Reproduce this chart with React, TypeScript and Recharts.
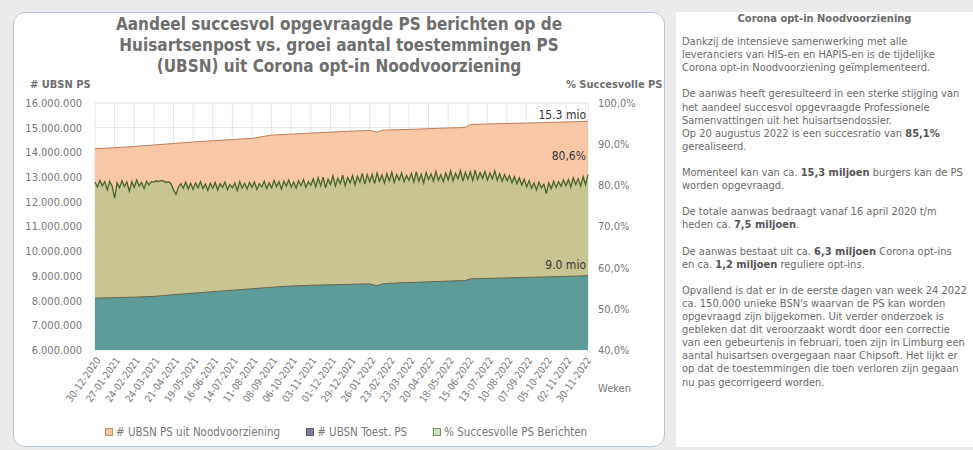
import { ComposedChart, Area, XAxis, YAxis, CartesianGrid } from 'recharts'

const FONT = '"DejaVu Sans Condensed", "DejaVu Sans", sans-serif'

// tick labels on the x axis, one per 4 weeks
const weekLabels = [
  '30-12-2020', '27-01-2021', '24-02-2021', '24-03-2021', '21-04-2021', '19-05-2021',
  '16-06-2021', '14-07-2021', '11-08-2021', '08-09-2021', '06-10-2021', '03-11-2021',
  '01-12-2021', '29-12-2021', '26-01-2022', '23-02-2022', '23-03-2022', '20-04-2022',
  '18-05-2022', '15-06-2022', '13-07-2022', '10-08-2022', '07-09-2022', '05-10-2022',
  '02-11-2022', '30-11-2022',
]
const weekTicks = [0, 4, 8, 12, 16, 20, 24, 28, 32, 36, 40, 44, 48, 52, 56, 60, 64, 68, 72, 76, 80, 84, 88, 92, 96, 100]

// weeks (since 30-12-2020) where the number of UBSN was read
const capWeeks = [0, 4, 8, 12, 16, 20, 24, 28, 32, 36, 40, 44, 48, 52, 56, 57.5, 58.5, 60, 64, 68, 72, 75.5, 76.5, 80, 84, 88, 92, 96, 100.5]
// # UBSN Toest. PS
const toest = [
  8100000, 8120000, 8140000, 8170000, 8240000, 8300000, 8360000, 8420000, 8480000, 8540000,
  8590000, 8620000, 8640000, 8660000, 8680000, 8600000, 8670000, 8700000, 8730000, 8760000,
  8790000, 8810000, 8880000, 8900000, 8920000, 8940000, 8960000, 8980000, 9010000,
]
// # UBSN PS uit Noodvoorziening
const nood = [
  6050000, 6070000, 6100000, 6130000, 6120000, 6120000, 6110000, 6100000, 6090000, 6160000,
  6150000, 6160000, 6180000, 6200000, 6210000, 6220000, 6230000, 6210000, 6200000, 6200000,
  6200000, 6200000, 6250000, 6250000, 6250000, 6250000, 6250000, 6250000, 6250000,
]

// % Succesvolle PS Berichten, twice per week
const pctSucces = [
  80.8, 79.6, 81.2, 79.9, 80.9, 78.9, 81.0, 79.8,
  76.9, 80.6, 79.4, 81.1, 79.7, 80.8, 78.6, 80.9,
  79.5, 81.3, 79.8, 80.7, 79.2, 81.0, 80.1, 80.9,
  80.8, 81.1, 80.9, 81.2, 81.0, 80.7, 80.9, 80.4,
  78.9, 77.8, 79.6, 80.4, 79.3, 80.8, 79.1, 80.5,
  79.0, 80.6, 79.4, 80.9, 79.2, 80.3, 78.8, 80.5,
  79.3, 80.7, 78.9, 80.4, 79.5, 80.8, 79.0, 80.2,
  79.4, 80.6, 78.7, 80.9, 79.3, 80.5, 79.1, 80.7,
  79.5, 80.8, 79.0, 80.4, 79.6, 81.0, 79.2, 80.6,
  79.4, 81.2, 79.7, 80.9, 79.1, 81.0, 79.8, 81.3,
  79.6, 80.8, 79.3, 81.1, 79.9, 81.4, 79.5, 80.9,
  80.0, 81.6, 79.6, 81.8, 79.9, 82.0, 79.4, 81.5,
  80.2, 82.3, 79.8, 81.7, 80.4, 82.5, 79.9, 81.9,
  80.6, 82.4, 80.1, 82.2, 80.8, 82.9, 80.3, 82.6,
  80.9, 82.7, 80.4, 83.0, 81.0, 82.5, 80.6, 82.8,
  81.1, 83.2, 80.7, 82.6, 81.3, 83.0, 80.9, 82.4,
  81.2, 82.9, 80.8, 83.3, 81.0, 82.7, 80.6, 83.1,
  81.4, 82.8, 81.0, 83.4, 81.2, 82.6, 80.9, 83.0,
  81.3, 83.5, 81.1, 82.9, 81.6, 83.6, 81.0, 83.2,
  81.5, 83.3, 81.2, 83.7, 81.4, 83.1, 81.7, 83.4,
  81.3, 83.0, 81.6, 83.5, 81.2, 82.8, 81.0, 82.6,
  81.1, 82.4, 80.6, 82.1, 80.4, 81.8, 80.1, 81.5,
  79.6, 81.2, 79.3, 80.6, 78.9, 80.8, 79.4, 80.3,
  78.0, 80.6, 79.2, 81.0, 79.5, 80.9, 79.8, 81.3,
  79.9, 81.4, 79.6, 81.8, 80.2, 81.6, 79.8, 82.1,
  80.2, 82.6,
]

const countTicks = [6000000, 7000000, 8000000, 9000000, 10000000, 11000000, 12000000, 13000000, 14000000, 15000000, 16000000]
const pctTicks = [40, 50, 60, 70, 80, 90, 100]

const data = pctSucces.map((pct, i) => {
  const week = i / 2
  const k = capWeeks.indexOf(week)
  return {
    week,
    pct,
    toest: k >= 0 ? toest[k] : null,
    totaal: k >= 0 ? toest[k] + nood[k] : null,
  }
})

const COLORS = {
  nood: '#f8c7a6',
  noodLine: '#b98160',
  toest: '#5d9c99',
  toestLine: '#6e6248',
  pct: '#c8c592',
  pctLine: '#46652a',
  text: '#6e6e6e',
}

const fmtCount = (v: number) => String(v).replace(/\B(?=(\d{3})+(?!\d))/g, '.')
const fmtPct = (v: number) => v.toFixed(1).replace('.', ',') + '%'

function XTick({ x, y, payload }: any) {
  const label = weekLabels[weekTicks.indexOf(payload.value)]
  return (
    <g transform={`translate(${x + 3},${y})`}>
      <text x={0} y={0} dy={4} textAnchor="end" transform="rotate(-55)" fontSize={10} fill="#777" fontFamily={FONT}>
        {label}
      </text>
    </g>
  )
}

const paragraphs: (string | [string, boolean][])[][] = [
  [
    'Dankzij de intensieve samenwerking met alle',
    'leveranciers van HIS-en en HAPIS-en is de tijdelijke',
    'Corona opt-in Noodvoorziening geïmplementeerd.',
  ],
  [
    'De aanwas heeft geresulteerd in een sterke stijging van',
    'het aandeel succesvol opgevraagde Professionele',
    'Samenvattingen uit het huisartsendossier.',
    [['Op 20 augustus 2022 is een succesratio van ', false], ['85,1%', true]],
    'gerealiseerd.',
  ],
  [
    [['Momenteel kan van ca. ', false], ['15,3 miljoen', true], [' burgers kan de PS', false]],
    'worden opgevraagd.',
  ],
  [
    'De totale aanwas bedraagt vanaf 16 april 2020 t/m',
    [['heden ca. ', false], ['7,5 miljoen', true], ['.', false]],
  ],
  [
    [['De aanwas bestaat uit ca. ', false], ['6,3 miljoen', true], [' Corona opt-ins', false]],
    [['en ca. ', false], ['1,2 miljoen', true], [' reguliere opt-ins.', false]],
  ],
  [
    'Opvallend is dat er in de eerste dagen van week 24 2022',
    "ca. 150.000 unieke BSN's waarvan de PS kan worden",
    'opgevraagd zijn bijgekomen. Uit verder onderzoek is',
    'gebleken dat dit veroorzaakt wordt door een correctie',
    'van een gebeurtenis in februari, toen zijn in Limburg een',
    'aantal huisartsen overgegaan naar Chipsoft. Het lijkt er',
    'op dat de toestemmingen die toen verloren zijn gegaan',
    'nu pas gecorrigeerd worden.',
  ],
]

function LegendItem({ fill, border, label }: { fill: string; border: string; label: string }) {
  return (
    <span style={{ display: 'inline-flex', alignItems: 'center', marginRight: 26 }}>
      <span style={{ width: 6, height: 6, background: fill, border: `1px solid ${border}`, marginRight: 3 }} />
      {label}
    </span>
  )
}

export default function App() {
  return (
    <div style={{ position: 'absolute', left: 0, top: 0, width: 973, height: 450, background: '#ebebeb', overflow: 'hidden', fontFamily: FONT }}>
      <div style={{ position: 'absolute', left: 13, top: 12, width: 650, height: 433, border: '1px solid #b5c5d6', borderRadius: 12, background: '#fff' }} />

      <div style={{ position: 'absolute', left: 0, top: 0 }}>
        <ComposedChart width={680} height={450} data={data} margin={{ top: 103, right: 32, bottom: 40, left: 0 }}>
          <XAxis
            xAxisId="w"
            dataKey="week"
            type="number"
            domain={[0, 100.5]}
            ticks={weekTicks}
            interval={0}
            tick={<XTick />}
            tickLine={false}
            axisLine={false}
            height={60}
          />
          <YAxis
            yAxisId="cnt"
            domain={[6000000, 16000000]}
            ticks={countTicks}
            tickFormatter={fmtCount}
            width={95}
            tickLine={false}
            axisLine={false}
            tickMargin={7}
            tick={{ fontSize: 11, fill: '#777', fontFamily: FONT }}
          />
          <YAxis
            yAxisId="pct"
            orientation="right"
            domain={[40, 100]}
            ticks={pctTicks}
            tickFormatter={fmtPct}
            width={60}
            tickLine={false}
            axisLine={false}
            tickMargin={4}
            tick={{ fontSize: 11, fill: '#777', fontFamily: FONT }}
          />
          <Area
            xAxisId="w"
            yAxisId="cnt"
            dataKey="totaal"
            connectNulls
            type="linear"
            fill={COLORS.nood}
            fillOpacity={1}
            stroke={COLORS.noodLine}
            strokeWidth={1}
            isAnimationActive={false}
          />
          <Area
            xAxisId="w"
            yAxisId="pct"
            dataKey="pct"
            type="linear"
            fill={COLORS.pct}
            fillOpacity={1}
            stroke={COLORS.pctLine}
            strokeWidth={1.3}
            isAnimationActive={false}
          />
          <Area
            xAxisId="w"
            yAxisId="cnt"
            dataKey="toest"
            connectNulls
            type="linear"
            fill={COLORS.toest}
            fillOpacity={1}
            stroke={COLORS.toestLine}
            strokeWidth={1}
            isAnimationActive={false}
          />
          <CartesianGrid xAxisId="w" yAxisId="cnt" stroke="rgba(0,0,0,0.1)" />
        </ComposedChart>
      </div>

      <div style={{ position: 'absolute', left: 13, top: 14, width: 652, textAlign: 'center', fontSize: 17, lineHeight: '21px', fontWeight: 'bold', color: COLORS.text }}>
        Aandeel succesvol opgevraagde PS berichten op de
        <br />
        Huisartsenpost vs. groei aantal toestemmingen PS
        <br />
        (UBSN) uit Corona opt-in Noodvoorziening
      </div>

      <div style={{ position: 'absolute', left: 30, top: 78, fontSize: 11, fontWeight: 'bold', color: COLORS.text }}># UBSN PS</div>
      <div style={{ position: 'absolute', left: 566, top: 78, fontSize: 11, fontWeight: 'bold', color: COLORS.text }}>% Succesvolle PS</div>
      <div style={{ position: 'absolute', left: 598, top: 382, fontSize: 11, color: '#777' }}>Weken</div>

      <div style={{ position: 'absolute', right: 973 - 586, top: 108, fontSize: 12, color: '#333' }}>15.3 mio</div>
      <div style={{ position: 'absolute', right: 973 - 586, top: 149, fontSize: 12, color: '#333' }}>80,6%</div>
      <div style={{ position: 'absolute', right: 973 - 586, top: 258, fontSize: 12, color: '#333' }}>9.0 mio</div>

      <div style={{ position: 'absolute', left: 105, top: 425, fontSize: 11.5, color: '#777', display: 'flex', whiteSpace: 'nowrap' }}>
        <LegendItem fill={COLORS.nood} border="#d08a50" label="# UBSN PS uit Noodvoorziening" />
        <LegendItem fill="#7d7d9c" border="#5a5a78" label="# UBSN Toest. PS" />
        <LegendItem fill="#cfe0c0" border="#6f9a5a" label="% Succesvolle PS Berichten" />
      </div>

      <div style={{ position: 'absolute', left: 676, top: 12, width: 297, height: 435, background: '#fff', color: '#6a6a6a', fontSize: 11, lineHeight: '13.1px' }}>
        <div style={{ textAlign: 'center', fontWeight: 'bold', marginTop: 0 }}>Corona opt-in Noodvoorziening</div>
        <div style={{ paddingLeft: 6, marginTop: 10 }}>
          {paragraphs.map((p, i) => (
            <div key={i} style={{ marginBottom: 13.1, whiteSpace: 'nowrap' }}>
              {p.map((line, j) => (
                <div key={j}>
                  {typeof line === 'string'
                    ? line
                    : line.map(([t, b], k) => (
                        <span key={k} style={b ? { fontWeight: 'bold', color: '#555' } : undefined}>
                          {t}
                        </span>
                      ))}
                </div>
              ))}
            </div>
          ))}
        </div>
      </div>
    </div>
  )
}
